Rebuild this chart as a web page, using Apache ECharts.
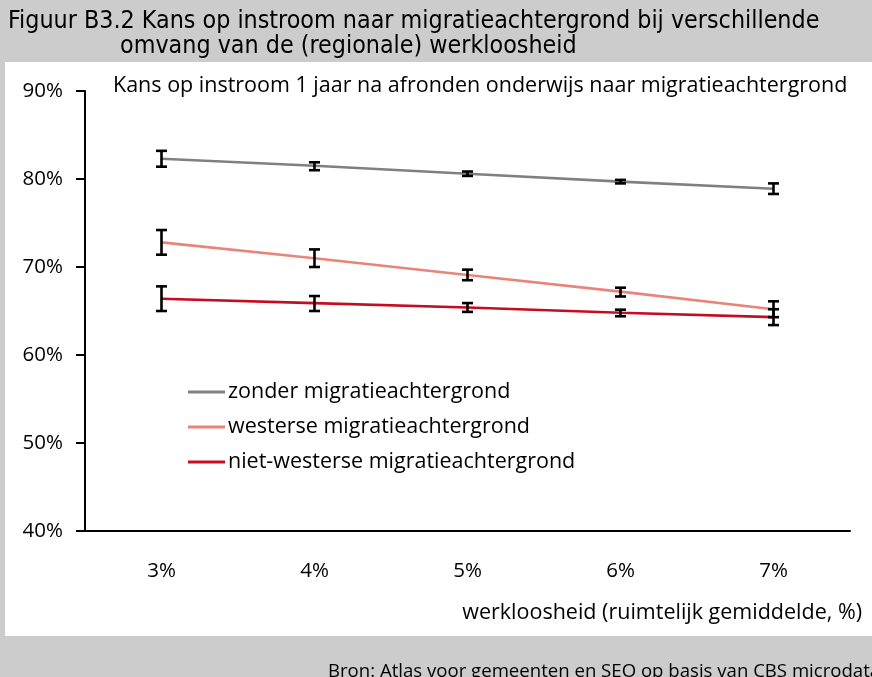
<!DOCTYPE html>
<html>
<head>
<meta charset="utf-8">
<script src="https://cdn.jsdelivr.net/npm/echarts@6/dist/echarts.min.js"></script>
<style>
  html, body { margin: 0; padding: 0; background: #cccccc; }
  #chart { width: 872px; height: 677px; }
</style>
</head>
<body>
<div id="chart"></div>
<script>
// Werkloosheid (ruimtelijk gemiddelde) op de x-as
const categories = ['3%', '4%', '5%', '6%', '7%'];

// Kans op instroom (%), met ondergrens en bovengrens van het betrouwbaarheidsinterval
const zonder      = [82.3, 81.5, 80.6, 79.7, 78.9];
const zonderLaag  = [81.4, 81.0, 80.35, 79.5, 78.3];
const zonderHoog  = [83.2, 81.9, 80.85, 79.9, 79.5];

const westers      = [72.8, 71.0, 69.1, 67.2, 65.2];
const westersLaag  = [71.4, 70.0, 68.5, 66.65, 64.3];
const westersHoog  = [74.2, 72.0, 69.7, 67.65, 66.1];

const nietWesters      = [66.4, 65.9, 65.4, 64.8, 64.3];
const nietWestersLaag  = [65.0, 65.0, 64.9, 64.4, 63.4];
const nietWestersHoog  = [67.8, 66.7, 65.9, 65.15, 65.2];

const seriesNames = [
  'zonder migratieachtergrond',
  'westerse migratieachtergrond',
  'niet-westerse migratieachtergrond'
];
const colors = ['#808080', '#e8847a', '#c40d22'];

const yTicks = { min: 40, max: 90, step: 10 };

const titleLine1 = 'Figuur B3.2 Kans op instroom naar migratieachtergrond bij verschillende';
const titleLine2 = 'omvang van de (regionale) werkloosheid';
const subTitle = 'Kans op instroom 1 jaar na afronden onderwijs naar migratieachtergrond';
const xName = 'werkloosheid (ruimtelijk gemiddelde, %)';
const source = 'Bron: Atlas voor gemeenten en SEO op basis van CBS microdata';

const titleFont = "'Liberation Sans Narrow', 'DejaVu Sans Condensed', sans-serif";
const bodyFont = "'Open Sans', 'Noto Sans', sans-serif";

function errorData(low, high) {
  return low.map((l, i) => [i, l, high[i]]);
}

function renderErrorBar(params, api) {
  const x = api.value(0);
  const lo = api.coord([x, api.value(1)]);
  const hi = api.coord([x, api.value(2)]);
  const half = 5.5;
  const style = { stroke: '#000', lineWidth: 2.6 };
  return {
    type: 'group',
    children: [
      { type: 'line', shape: { x1: hi[0], y1: hi[1], x2: lo[0], y2: lo[1] }, style },
      { type: 'line', shape: { x1: hi[0] - half, y1: hi[1], x2: hi[0] + half, y2: hi[1] }, style },
      { type: 'line', shape: { x1: lo[0] - half, y1: lo[1], x2: lo[0] + half, y2: lo[1] }, style }
    ]
  };
}

const values = [zonder, westers, nietWesters];
const lows = [zonderLaag, westersLaag, nietWestersLaag];
const highs = [zonderHoog, westersHoog, nietWestersHoog];

const series = [];
values.forEach((v, k) => {
  series.push({
    name: seriesNames[k],
    type: 'line',
    data: v,
    symbol: 'none',
    lineStyle: { color: colors[k], width: 2.6 },
    itemStyle: { color: colors[k] },
    z: 2
  });
});
values.forEach((v, k) => {
  series.push({
    type: 'custom',
    data: errorData(lows[k], highs[k]),
    renderItem: renderErrorBar,
    encode: { x: 0, y: [1, 2] },
    z: 5,
    silent: true
  });
});

const chart = echarts.init(document.getElementById('chart'), null, { renderer: 'canvas' });
chart.setOption({
  backgroundColor: '#cccccc',
  animation: false,
  textStyle: { fontFamily: bodyFont },
  graphic: [
    { type: 'rect', left: 5, top: 62, shape: { width: 867, height: 574 }, style: { fill: '#ffffff' }, z: -10 },
    { type: 'text', left: 8, top: 9, style: { text: titleLine1, font: '24.8px ' + titleFont, fill: '#000' } },
    { type: 'text', left: 120, top: 34, style: { text: titleLine2, font: '24.8px ' + titleFont, fill: '#000' } },
    { type: 'text', left: 328, top: 662, style: { text: source, font: '18.6px ' + bodyFont, fill: '#000' } }
  ],
  title: {
    text: subTitle,
    left: 113,
    top: 75,
    padding: 0,
    textStyle: { fontFamily: bodyFont, fontSize: 21.5, fontWeight: 'normal', color: '#000' }
  },
  legend: {
    orient: 'vertical',
    left: 188,
    top: 381,
    padding: 0,
    itemWidth: 37,
    itemHeight: 3,
    itemGap: 13,
    icon: 'rect',
    data: seriesNames,
    textStyle: { fontFamily: bodyFont, fontSize: 21.5, color: '#000', padding: [0, 0, 0, -2] }
  },
  grid: { left: 85, right: 22, top: 91, bottom: 146, containLabel: false },
  xAxis: {
    type: 'category',
    data: categories,
    boundaryGap: true,
    axisLine: { lineStyle: { color: '#000', width: 2 } },
    axisTick: { inside: true, length: 8, lineStyle: { color: '#000', width: 2 } },
    axisLabel: { margin: 30, fontFamily: bodyFont, fontSize: 20.5, color: '#000' },
    name: xName,
    nameLocation: 'end',
    nameGap: 12,
    nameTextStyle: { fontFamily: bodyFont, fontSize: 21.5, color: '#000', align: 'right', verticalAlign: 'top', padding: [71, 0, 0, 0] }
  },
  yAxis: {
    type: 'value',
    min: yTicks.min,
    max: yTicks.max,
    interval: yTicks.step,
    axisLine: { show: true, lineStyle: { color: '#000', width: 2 } },
    axisTick: { show: true, length: 9, lineStyle: { color: '#000', width: 2 } },
    axisLabel: { margin: 22, fontFamily: bodyFont, fontSize: 20.5, color: '#000', formatter: '{value}%' },
    splitLine: { show: false }
  },
  series
});
</script>
</body>
</html>
